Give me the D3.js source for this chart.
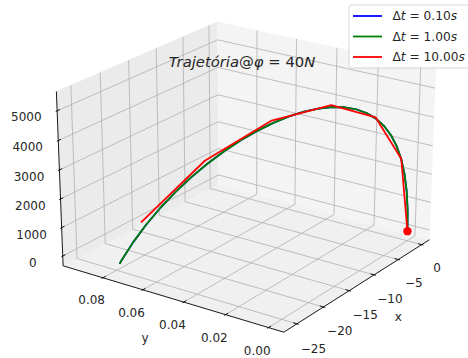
<!DOCTYPE html>
<html><head><meta charset="utf-8">
<script src="https://cdn.jsdelivr.net/npm/d3@7"></script>
<style>body{margin:0;background:#fff} svg{display:block} text{font-family:"DejaVu Sans",sans-serif;fill:#262626}</style>
</head><body><svg id="c" width="468" height="358"></svg>
<script>
// ---------------- data ----------------
const greenX = [0,-0.11,-0.42,-0.93,-1.60,-2.43,-3.40,-4.49,-5.68,-6.96,-8.30,-9.70,-11.14,-12.59,-14.04,-15.48,-16.88,-18.23,-19.51,-20.71,-21.81,-22.79,-23.63,-24.32,-24.84,-25.17,-25.29,-25.29];
const greenY = [0,0.00001,0.00007,0.00022,0.00051,0.00098,0.00167,0.00259,0.00378,0.00526,0.00704,0.00915,0.01159,0.01437,0.01749,0.02095,0.02474,0.02886,0.03328,0.03800,0.04298,0.04821,0.05365,0.05927,0.06504,0.07090,0.07682,0.07730];
const greenZ = [0,768,1475,2121,2705,3228,3690,4091,4430,4708,4925,5081,5175,5208,5180,5091,4940,4728,4455,4121,3725,3268,2750,2171,1530,828,65,0];
const blueX = [0,-0.11,-0.42,-0.93,-1.60,-2.43,-3.40,-4.49,-5.68,-6.96,-8.30,-9.70,-11.14,-12.59,-14.04,-15.48,-16.88,-18.23,-19.51,-20.71,-21.81,-22.79,-23.63,-24.32,-24.84,-25.17,-25.29,-25.29];
const blueY = [0,0.00001,0.00007,0.00022,0.00051,0.00098,0.00167,0.00259,0.00378,0.00526,0.00704,0.00915,0.01159,0.01437,0.01749,0.02095,0.02474,0.02886,0.03328,0.03800,0.04298,0.04821,0.05365,0.05927,0.06504,0.07090,0.07682,0.07730];
const blueZ = [0,768,1475,2121,2705,3228,3690,4091,4430,4708,4925,5081,5175,5208,5180,5091,4940,4728,4455,4121,3725,3268,2750,2171,1530,828,65,0];
const redX = [0,-1.61,-5.73,-11.25,-17.08,-22.12,-25.29];
const redY = [0,0.0005,0.0038,0.0117,0.0250,0.0435,0.0659];
const redZ = [0,2728,4475,5243,5030,3837,1665];
const startPoint = [0,0,0];
const seriesNames = ['0.10','1.00','10.00'];
const seriesColors = ['#0000ff','#008000','#ff0000'];
const xTicks = [-25,-20,-15,-10,-5,0];
const yTicks = [0,0.02,0.04,0.06,0.08];
const zTicks = [0,1000,2000,3000,4000,5000];
const xLim = [-26.83,1.10], yLim = [-0.00485,0.09825], zLim = [-229,5526];

// ---------------- projection (matplotlib-style 3D) ----------------
const ELEV = 23.15, AZIM = -145.05, DIST = 10;
const asp = [4,4,3].map(v => v*1.8294640721620434/Math.sqrt(41));
const wx = d3.scaleLinear().domain(xLim).range([0,asp[0]]);
const wy = d3.scaleLinear().domain(yLim).range([0,asp[1]]);
const wz = d3.scaleLinear().domain(zLim).range([0,asp[2]]);
const lo = asp.map(a => -a/48), hi = asp.map(a => a*49/48);
const sub=(a,b)=>[a[0]-b[0],a[1]-b[1],a[2]-b[2]];
const dot=(a,b)=>a[0]*b[0]+a[1]*b[1]+a[2]*b[2];
const cross=(a,b)=>[a[1]*b[2]-a[2]*b[1],a[2]*b[0]-a[0]*b[2],a[0]*b[1]-a[1]*b[0]];
const nrm=a=>{const l=Math.hypot(...a);return a.map(v=>v/l);};
const re=ELEV*Math.PI/180, ra=AZIM*Math.PI/180, Rc=asp.map(a=>a/2);
const eye=[Rc[0]+Math.cos(ra)*Math.cos(re)*DIST, Rc[1]+Math.sin(ra)*Math.cos(re)*DIST, Rc[2]+Math.sin(re)*DIST];
const nv=nrm(sub(eye,Rc)), uv=nrm(cross([0,0,1],nv)), vv=cross(nv,uv);
const px = d3.scaleLinear().domain([-0.1,0.1]).range([248.7-224.81,248.7+224.81]);
const py = d3.scaleLinear().domain([-0.1,0.1]).range([167.9+210,167.9-210]);
function S(P){const d=sub(P,eye);const W=-dot(nv,d);return [px(dot(uv,d)/W), py(dot(vv,d)/W)];}
const toW = (x,y,z)=>[wx(x),wy(y),wz(z)];

const svg=d3.select('#c');
const line2=d3.line();
const path3=pts=>line2(pts.map(S));

// panes
const pane=(pts,c)=>svg.append('path').attr('d',path3(pts)+'Z').attr('fill',c).attr('stroke',c).attr('stroke-width',0.5);
pane([[lo[0],lo[1],lo[2]],[hi[0],lo[1],lo[2]],[hi[0],hi[1],lo[2]],[lo[0],hi[1],lo[2]]],'#f0f0f0');
pane([[lo[0],hi[1],lo[2]],[hi[0],hi[1],lo[2]],[hi[0],hi[1],hi[2]],[lo[0],hi[1],hi[2]]],'#ebebeb');
pane([[hi[0],lo[1],lo[2]],[hi[0],hi[1],lo[2]],[hi[0],hi[1],hi[2]],[hi[0],lo[1],hi[2]]],'#f4f4f4');

// grid
const grid=svg.append('g').attr('fill','none').attr('stroke','#b0b0b0').attr('stroke-width',0.8);
xTicks.forEach(v=>{const w=wx(v);grid.append('path').attr('d',path3([[w,lo[1],lo[2]],[w,hi[1],lo[2]],[w,hi[1],hi[2]]]));});
yTicks.forEach(v=>{const w=wy(v);grid.append('path').attr('d',path3([[lo[0],w,lo[2]],[hi[0],w,lo[2]],[hi[0],w,hi[2]]]));});
zTicks.forEach(v=>{const w=wz(v);grid.append('path').attr('d',path3([[lo[0],hi[1],w],[hi[0],hi[1],w],[hi[0],lo[1],w]]));});

// axis lines
const ax=svg.append('g').attr('fill','none').attr('stroke','#000').attr('stroke-width',0.9);
ax.append('path').attr('d',path3([[lo[0],hi[1],lo[2]],[lo[0],lo[1],lo[2]],[hi[0],lo[1],lo[2]]]));
ax.append('path').attr('d',path3([[lo[0],hi[1],lo[2]],[lo[0],hi[1],hi[2]]]));
const dl=asp.map(a=>a/12);
xTicks.forEach(v=>{const w=wx(v);ax.append('path').attr('d',path3([[w,lo[1]-0.1*dl[1],lo[2]],[w,lo[1]+0.2*dl[1],lo[2]]]));});
yTicks.forEach(v=>{const w=wy(v);ax.append('path').attr('d',path3([[lo[0]-0.1*dl[0],w,lo[2]],[lo[0]+0.2*dl[0],w,lo[2]]]));});
zTicks.forEach(v=>{const w=wz(v);ax.append('path').attr('d',path3([[lo[0]-0.1*dl[0],hi[1],w],[lo[0]+0.2*dl[0],hi[1],w]]));});

// tick labels
const fmtMinus=s=>s.replace('-','\u2212');
const lab=svg.append('g').attr('font-size',12).attr('text-anchor','middle');
const putText=(P,t)=>{const q=S(P);lab.append('text').attr('x',q[0]).attr('y',q[1]).attr('dy','0.35em').text(t);};
xTicks.forEach(v=>putText([wx(v),lo[1]-0.085,lo[2]-0.1],fmtMinus(String(v))));
yTicks.forEach(v=>putText([lo[0]-0.083,wy(v),lo[2]-0.083],v.toFixed(2)));
zTicks.forEach(v=>putText([lo[0]-0.137,hi[1]+0.058,wz(v)],String(v)));
putText([(lo[0]+hi[0])/2,lo[1]-0.2,lo[2]-0.115],'x');
putText([lo[0]-0.18,(lo[1]+hi[1])/2,lo[2]-0.13],'y');

// data lines
const series=[[blueX,blueY,blueZ],[greenX,greenY,greenZ],[redX,redY,redZ]];
series.forEach((s,k)=>{
  const pts=s[0].map((x,i)=>toW(x,s[1][i],s[2][i]));
  svg.append('path').attr('d',path3(pts)).attr('fill','none').attr('stroke',seriesColors[k]).attr('stroke-width',1.8).attr('stroke-linejoin','round').attr('stroke-linecap','square');
});
const sp=S(toW(...startPoint));
svg.append('circle').attr('cx',sp[0]).attr('cy',sp[1]).attr('r',4.2).attr('fill','#ff0000');

// title
const title=svg.append('text').attr('x',242).attr('y',67).attr('text-anchor','middle').attr('font-size',14.8);
title.append('tspan').attr('font-style','italic').text('Trajetória');
title.append('tspan').text('@');
title.append('tspan').attr('font-style','italic').text('\u03C6');
title.append('tspan').text(' = 40');
title.append('tspan').attr('font-style','italic').text('N');

// legend
const lg=svg.append('g');
lg.append('rect').attr('x',349).attr('y',5).attr('width',125).attr('height',63).attr('rx',2.5).attr('fill','#fff').attr('fill-opacity',0.8).attr('stroke','#cccccc').attr('stroke-width',0.8);
seriesNames.forEach((nm,i)=>{
  const y=16+i*20.5;
  lg.append('line').attr('x1',353).attr('x2',382).attr('y1',y).attr('y2',y).attr('stroke',seriesColors[i]).attr('stroke-width',1.8);
  const t=lg.append('text').attr('x',392.5).attr('y',y).attr('dy','0.36em').attr('font-size',12.2);
  t.append('tspan').text('\u0394');
  t.append('tspan').attr('font-style','italic').text('t');
  t.append('tspan').text(' = '+nm);
  t.append('tspan').attr('font-style','italic').text('s');
});
</script></body></html>
